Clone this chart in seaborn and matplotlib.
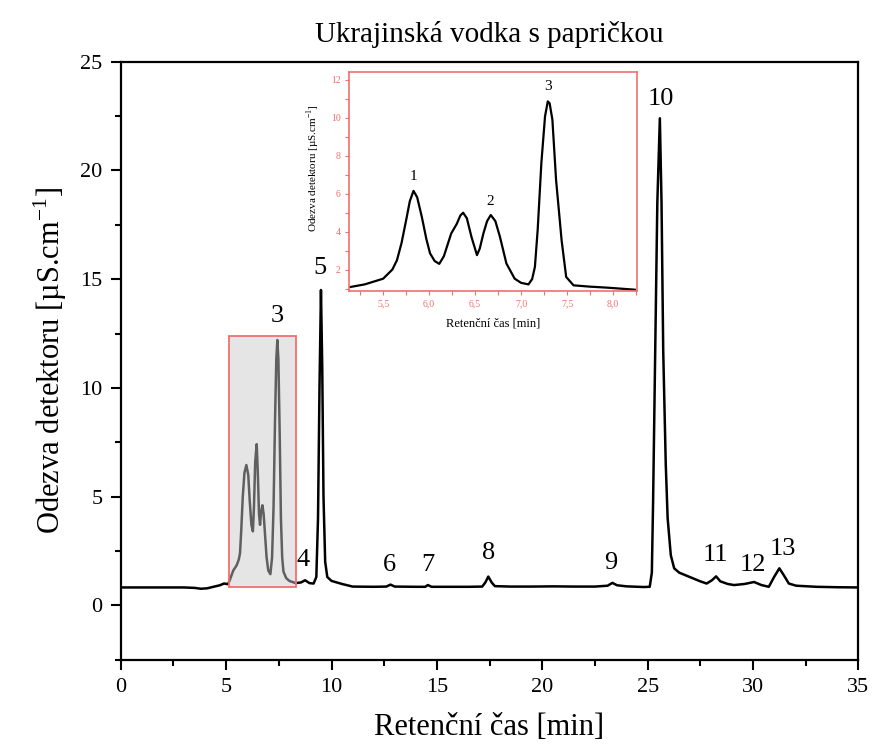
import numpy as np
import pandas as pd
import matplotlib
matplotlib.use("Agg")
import matplotlib.pyplot as plt
from matplotlib.patches import Rectangle
from matplotlib.ticker import MultipleLocator, FuncFormatter
import seaborn as sns

# ---------------- data ----------------
time_min = [0.0, 1.0, 2.0, 3.0, 3.5, 3.8, 4.1, 4.4, 4.7, 4.9, 5.1, 5.34, 5.5, 5.6, 5.66,
            5.72, 5.79, 5.87, 5.96, 6.05, 6.12, 6.2, 6.27, 6.32, 6.38, 6.45, 6.5, 6.56,
            6.61, 6.66, 6.72, 6.78, 6.85, 6.92, 7.0, 7.1, 7.18, 7.25, 7.32, 7.38, 7.43,
            7.48, 7.54, 7.6, 7.66, 7.72, 7.85, 8.0, 8.3, 8.55,
            8.75, 8.95, 9.15, 9.28, 9.36, 9.43, 9.5, 9.56, 9.62, 9.7, 9.8, 10.0, 10.5,
            11.0, 12.0, 12.6, 12.8, 13.0, 14.0, 14.45, 14.57, 14.75, 15.5, 16.5, 17.15,
            17.3, 17.44, 17.6, 17.75, 18.5, 19.5, 20.5, 21.5, 22.5, 23.1, 23.33, 23.55,
            24.0, 24.8, 25.1, 25.2, 25.26, 25.36, 25.46, 25.58, 25.66, 25.74, 25.86,
            25.95, 26.1, 26.26, 26.5, 27.0, 27.5, 27.8, 28.05, 28.25, 28.45, 28.8, 29.1,
            29.6, 30.05, 30.4, 30.75, 31.0, 31.25, 31.45, 31.7, 32.05, 33.0, 34.0, 35.0]
response = [0.82, 0.82, 0.82, 0.82, 0.80, 0.76, 0.78, 0.85, 0.92, 1.0, 0.97, 1.6, 1.84,
            2.1, 2.4, 3.5, 5.0, 6.1, 6.45, 6.0, 4.8, 3.7, 3.4, 4.5, 6.6, 7.41, 6.2, 4.2,
            3.7, 4.3, 4.6, 4.2, 3.2, 2.2, 1.6, 1.43, 2.2, 4.5, 8.5, 11.3, 12.2,
            11.3, 8.0, 4.0, 2.2, 1.55, 1.25, 1.12, 1.02, 1.05,
            1.15, 1.02, 1.0, 1.3, 4.0, 10.0, 14.5, 11.0, 5.0, 2.0, 1.3, 1.12, 0.98, 0.86,
            0.85, 0.86, 0.95, 0.86, 0.85, 0.85, 0.93, 0.85, 0.85, 0.85, 0.86, 1.05, 1.32,
            1.05, 0.88, 0.86, 0.86, 0.87, 0.86, 0.86, 0.9, 1.03, 0.92, 0.87, 0.84, 0.85,
            1.5, 4.8, 11.7, 18.5, 22.4, 18.5, 11.7, 6.5, 4.0, 2.3, 1.7, 1.5, 1.3, 1.1,
            1.0, 1.15, 1.33, 1.1, 0.98, 0.93, 0.98, 1.07, 0.93, 0.85, 1.3, 1.7, 1.4, 1.0,
            0.9, 0.85, 0.83, 0.82]

peak_labels = ["3", "4", "5", "6", "7", "8", "9", "10", "11", "12", "13"]
peak_label_x = [7.42, 8.65, 9.45, 12.74, 14.55, 17.45, 23.25, 25.63, 28.2, 30.0, 31.4]
peak_label_y = [13.3, 2.07, 15.5, 1.84, 1.84, 2.4, 1.93, 23.3, 2.3, 1.84, 2.6]

inset_time = [5.14, 5.3, 5.5, 5.6, 5.65, 5.7, 5.75, 5.79, 5.83, 5.87, 5.92, 5.97, 6.01,
              6.06, 6.11, 6.16, 6.2, 6.24, 6.3, 6.34, 6.37, 6.41, 6.46, 6.52, 6.55,
              6.59, 6.63, 6.67, 6.72, 6.77, 6.84, 6.93, 7.0, 7.08, 7.12, 7.15, 7.18,
              7.22, 7.26, 7.29, 7.31, 7.34, 7.38, 7.44, 7.49, 7.57, 7.75, 7.93, 8.24]
inset_response = [1.08, 1.22, 1.52, 2.0, 2.49, 3.4, 4.6, 5.6, 6.14, 5.8, 4.78, 3.6, 2.85,
                  2.45, 2.3, 2.7, 3.3, 3.9, 4.4, 4.85, 4.99, 4.7, 3.72, 2.76, 3.1,
                  3.9, 4.55, 4.87, 4.55, 3.72, 2.32, 1.52, 1.3, 1.22, 1.5, 2.14, 4.08,
                  7.6, 10.06, 10.85, 10.75, 9.89, 6.72, 3.55, 1.61, 1.17, 1.1, 1.05, 0.94]
inset_labels = ["1", "2", "3"]
inset_label_x = [5.83, 6.66, 7.29]
inset_label_y = [6.89, 5.57, 11.65]

title = "Ukrajinská vodka s papričkou"
xlabel = "Retenční čas [min]"
ylabel = "Odezva detektoru [µS.cm$^{-1}$]"

# ---------------- style ----------------
sns.set_theme(style="ticks")
plt.rcParams["font.family"] = ["Liberation Serif", "DejaVu Serif"]
plt.rcParams["mathtext.fontset"] = "custom"
plt.rcParams["mathtext.rm"] = "Liberation Serif"
plt.rcParams["text.color"] = "black"
plt.rcParams["axes.labelcolor"] = "black"
plt.rcParams["axes.titlecolor"] = "black"
plt.rcParams["xtick.color"] = "black"
plt.rcParams["ytick.color"] = "black"

red = "#f07070"

fig = plt.figure(figsize=(8.75, 7.53), dpi=100)
ax = fig.add_axes([0.138, 0.124, 0.843, 0.794])

df = pd.DataFrame({"t": time_min, "y": response})
sns.lineplot(data=df, x="t", y="y", ax=ax, color="black", linewidth=1.8,
             estimator=None, sort=False)

ax.add_patch(Rectangle((5.12, 0.85), 8.32 - 5.12, 12.4 - 0.85,
                       facecolor=(0.79, 0.79, 0.79), alpha=0.48, edgecolor="none", zorder=5))
ax.add_patch(Rectangle((5.12, 0.85), 8.32 - 5.12, 12.4 - 0.85,
                       facecolor="none", edgecolor=red, linewidth=1.3, zorder=6))

for lab, lx, ly in zip(peak_labels, peak_label_x, peak_label_y):
    ax.text(lx, ly, lab, ha="center", va="center", fontsize=19, color="black", zorder=7)

ax.set_xlim(0, 35)
ax.set_ylim(-2.5, 25)
ax.xaxis.set_major_locator(MultipleLocator(5))
ax.xaxis.set_minor_locator(MultipleLocator(2.5))
ax.yaxis.set_major_locator(MultipleLocator(5))
ax.yaxis.set_minor_locator(MultipleLocator(2.5))
ax.tick_params(axis="both", which="major", direction="out", length=7, width=1.5,
               labelsize=16, colors="black", labelcolor="black", pad=6)
ax.tick_params(axis="both", which="minor", direction="out", length=4, width=1.5,
               colors="black")
for s in ax.spines.values():
    s.set_linewidth(1.6)
    s.set_color("black")
ax.set_xlabel(xlabel, fontsize=22, labelpad=12, color="black")
ax.set_ylabel(ylabel, fontsize=22, labelpad=8, color="black")
ax.set_title(title, fontsize=21, pad=14, color="black")

# ---------------- inset ----------------
axi = fig.add_axes([0.399, 0.6135, 0.329, 0.291])
dfi = pd.DataFrame({"t": inset_time, "y": inset_response})
sns.lineplot(data=dfi, x="t", y="y", ax=axi, color="black", linewidth=1.6,
             estimator=None, sort=False)
axi.set_xlim(5.13, 8.26)
axi.set_ylim(0.87, 12.4)
axi.xaxis.set_major_locator(MultipleLocator(0.5))
axi.xaxis.set_minor_locator(MultipleLocator(0.25))
axi.yaxis.set_major_locator(MultipleLocator(2))
axi.yaxis.set_minor_locator(MultipleLocator(1))
axi.xaxis.set_major_formatter(FuncFormatter(lambda v, p: f"{v:.1f}".replace(".", ",")))
axi.yaxis.set_major_formatter(FuncFormatter(lambda v, p: f"{v:.0f}"))
axi.tick_params(axis="both", which="major", direction="out", length=3, width=0.8,
                labelsize=7, colors=red, labelcolor=red, pad=3)
axi.tick_params(axis="both", which="minor", direction="out", length=3, width=0.8, colors=red)
for s in axi.spines.values():
    s.set_linewidth(1.2)
    s.set_color(red)
axi.set_xlabel(xlabel, fontsize=9, color="black")
axi.xaxis.set_label_coords(0.5, -0.12)
axi.set_ylabel(ylabel, fontsize=8, color="black")
axi.yaxis.set_label_coords(-0.095, 0.56)
for lab, lx, ly in zip(inset_labels, inset_label_x, inset_label_y):
    axi.text(lx, ly, lab, ha="center", va="center", fontsize=11, color="black")

fig.savefig("out.png", dpi=100)
